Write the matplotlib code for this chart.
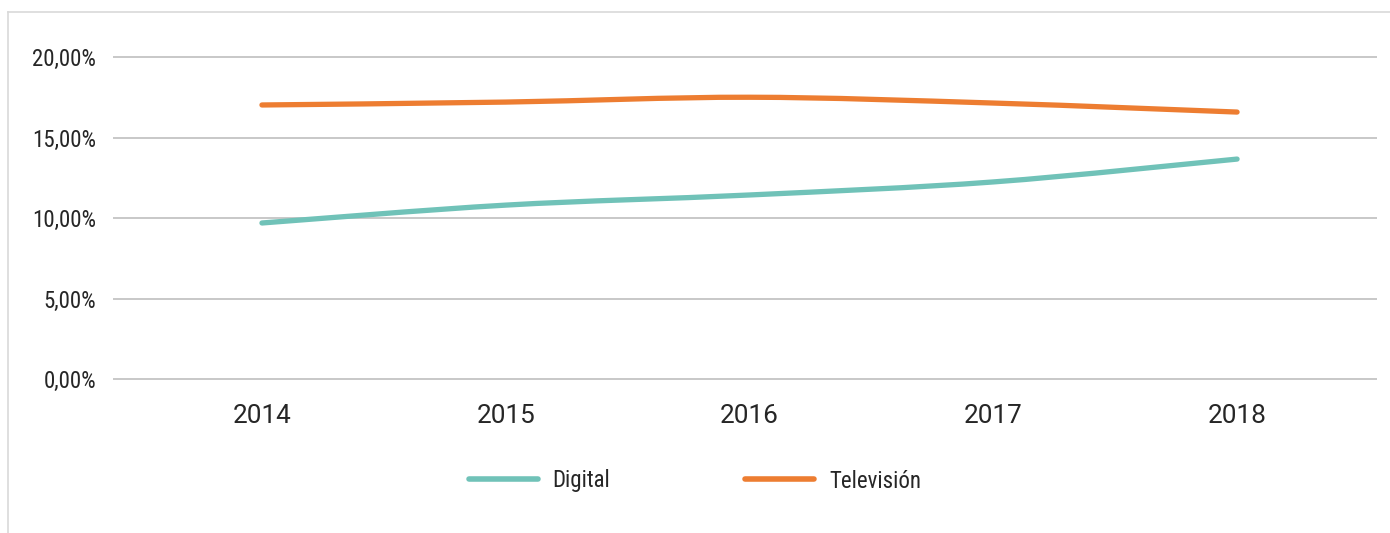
import matplotlib
matplotlib.use("Agg")
import matplotlib.pyplot as plt
from matplotlib import font_manager
from matplotlib.path import Path
from matplotlib.patches import PathPatch
from matplotlib.lines import Line2D
import numpy as np

# datos
years = ["2014", "2015", "2016", "2017", "2018"]
digital = [0.0969, 0.1080, 0.1143, 0.1224, 0.1366]
television = [0.1702, 0.1720, 0.1750, 0.1714, 0.1658]
yticks = [0.0, 0.05, 0.10, 0.15, 0.20]

teal = "#70C2B8"
orange = "#ED7D31"

nombres = {f.name for f in font_manager.fontManager.ttflist}
if "Roboto Condensed" in nombres:
    cond, cond_size = "Roboto Condensed", 16.5
else:
    cond, cond_size = "Roboto", 14.5


def smooth_path(xs, ys):
    # curva suave tipo Excel (bezier con tangentes de catmull-rom)
    pts = np.column_stack([xs, ys])
    verts = [pts[0]]
    codes = [Path.MOVETO]
    n = len(pts)
    for i in range(n - 1):
        p0 = pts[max(i - 1, 0)]
        p1 = pts[i]
        p2 = pts[i + 1]
        p3 = pts[min(i + 2, n - 1)]
        c1 = p1 + (p2 - p0) / 6
        c2 = p2 - (p3 - p1) / 6
        verts += [c1, c2, p2]
        codes += [Path.CURVE4] * 3
    return Path(verts, codes)


fig = plt.figure(figsize=(13.9, 5.33), dpi=100)
ax = fig.add_axes([113 / 1390, 1 - 379 / 533, (1377 - 113) / 1390, (379 - 57) / 533])

x = np.arange(len(years))
for serie, color in [(digital, teal), (television, orange)]:
    patch = PathPatch(smooth_path(x, serie), facecolor="none", edgecolor=color,
                      lw=3.8, capstyle="round", joinstyle="round")
    ax.add_patch(patch)

xlo, xhi = -0.611, 4.574
ax.set_xlim(xlo, xhi)
ax.set_ylim(0, 0.20)
ax.hlines(yticks, xlo, xhi, colors="#BFBFBF", lw=1.2, clip_on=False, zorder=0)

ax.set_xticks(x)
ax.set_xticklabels(years, fontfamily="Roboto", fontsize=18.8, color="#262626")
ax.set_yticks(yticks)
ax.set_yticklabels([f"{v * 100:.2f}%".replace(".", ",") for v in yticks],
                   fontfamily=cond, fontsize=cond_size, color="#262626")
ax.tick_params(axis="x", length=0, pad=18)
ax.tick_params(axis="y", length=0, pad=12)
for s in ax.spines.values():
    s.set_visible(False)

handles = [Line2D([], [], color=teal, lw=4, solid_capstyle="round"),
           Line2D([], [], color=orange, lw=4, solid_capstyle="round")]
fig.legend(handles, ["Digital", "Televisión"], loc="center", bbox_to_anchor=(0.5, 1 - 481 / 533),
           ncol=2, frameon=False, prop={"family": cond, "size": cond_size},
           handlelength=3.0, handletextpad=0.65, columnspacing=5.9, labelcolor="#262626")

# marco exterior (solo arriba e izquierda visibles)
fig.add_artist(Line2D([8 / 1390, 1], [1 - 12 / 533] * 2, color="#D9D9D9", lw=1.2,
                      transform=fig.transFigure))
fig.add_artist(Line2D([8 / 1390] * 2, [0, 1 - 12 / 533], color="#D9D9D9", lw=1.2,
                      transform=fig.transFigure))

fig.savefig("out.png", dpi=100)
